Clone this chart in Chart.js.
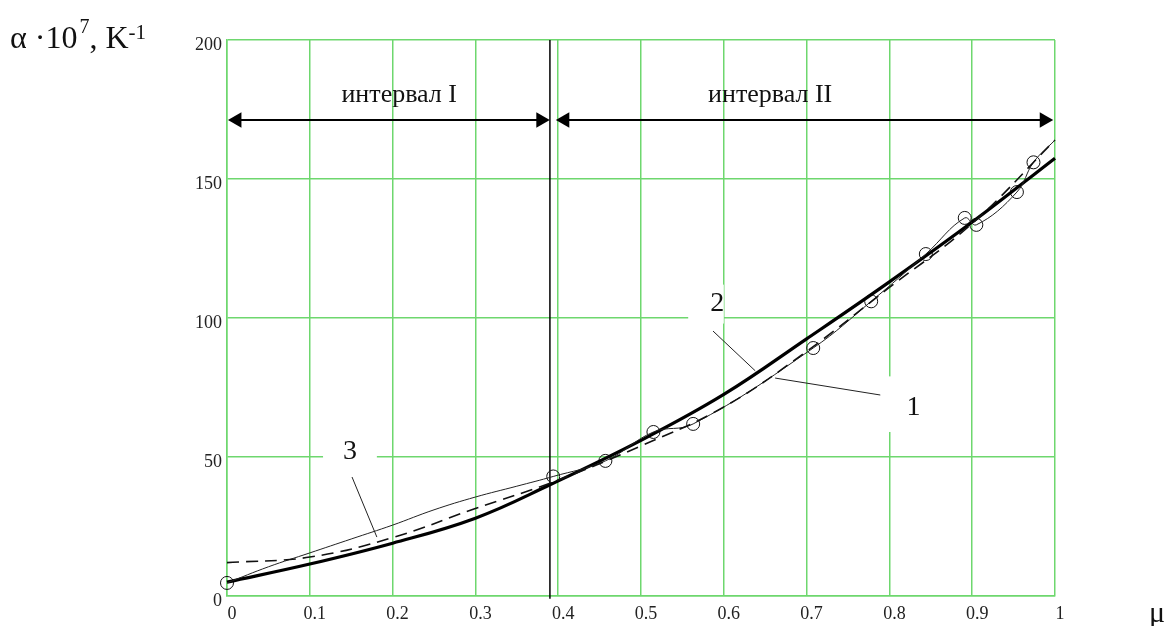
<!DOCTYPE html>
<html>
<head>
<meta charset="utf-8">
<script src="https://cdn.jsdelivr.net/npm/chart.js@4/dist/chart.umd.min.js"></script>
<style>
  body { margin: 0; background: #fff; }
</style>
</head>
<body>
<canvas id="chart" width="1172" height="626"></canvas>
<script>
// axis ticks
var muTicks = [0, 0.1, 0.2, 0.3, 0.4, 0.5, 0.6, 0.7, 0.8, 0.9, 1];
var muTickLabels = ['0', '0.1', '0.2', '0.3', '0.4', '0.5', '0.6', '0.7', '0.8', '0.9', '1'];
var alphaTicks = [0, 50, 100, 150, 200];

// fitted curves (thick solid and dashed)
var muFit = [0, 0.1, 0.2, 0.3, 0.39, 0.5, 0.6, 0.7, 0.8, 0.9, 1];
var alphaThick = [5, 11.5, 19, 28, 40, 56, 72.5, 92.5, 113, 134.5, 157.5];
var alphaDashed = [12, 14, 21, 31.5, 40.6, 54, 68, 88, 111, 134, 164];

// thin line through the measured points
var muThin = [0, 0.05, 0.1, 0.15, 0.2, 0.25, 0.3, 0.35, 0.394, 0.457, 0.515, 0.563, 0.708, 0.778, 0.844, 0.891, 0.905, 0.954, 0.974, 1];
var alphaThin = [4.7, 10.5, 15.5, 20.5, 25.5, 31, 35.6, 39.5, 43, 48.6, 59, 61.9, 89.2, 106, 123, 136, 133.5, 145.3, 156, 164];

// measured points (circles)
var muExp = [0, 0.394, 0.457, 0.515, 0.563, 0.708, 0.778, 0.844, 0.891, 0.905, 0.954, 0.974];
var alphaExp = [4.7, 43, 48.6, 59, 61.9, 89.2, 106, 123, 136, 133.5, 145.3, 156];

// interval boundary and arrows
var muBoundary = 0.39;
var arrowLevel = 171.2;
var arrowOne = [0.005, 0.385];
var arrowTwo = [0.40, 0.99];
var arrowHeadsMu = [0.012, 0.379, 0.408, 0.987];

// numbered labels with their white patch and leader line
var curveLabels = [
  { text: '1', mu: 0.829, alpha: 67.6, box: [0.79, 0.865, 59, 79], from: [0.789, 72.3], to: [0.662, 78.4] },
  { text: '2', mu: 0.592, alpha: 105, box: [0.557, 0.6, 98, 112], from: [0.587, 95.3], to: [0.638, 81] },
  { text: '3', mu: 0.1486, alpha: 51.8, box: [0.116, 0.181, 45, 58], from: [0.151, 42.8], to: [0.181, 21.2] }
];
var intervalLabels = [
  { text: 'интервал I', mu: 0.208, alpha: 180 },
  { text: 'интервал II', mu: 0.656, alpha: 180 }
];

function pts(xs, ys) {
  return xs.map(function(x, i) { return { x: x, y: ys[i] }; });
}

var serif = "'Liberation Serif', 'DejaVu Serif', serif";
var green = 'rgb(110, 215, 110)';

var annotations = {
  id: 'annotations',
  beforeDatasetsDraw: function(chart) {
    var ctx = chart.ctx, xs = chart.scales.x, ys = chart.scales.y;
    ctx.save();
    ctx.fillStyle = '#fff';
    curveLabels.forEach(function(l) {
      var x0 = xs.getPixelForValue(l.box[0]), x1 = xs.getPixelForValue(l.box[1]);
      var y0 = ys.getPixelForValue(l.box[3]), y1 = ys.getPixelForValue(l.box[2]);
      ctx.fillRect(x0, y0, x1 - x0, y1 - y0);
    });
    ctx.restore();
  },
  afterDatasetsDraw: function(chart) {
    var ctx = chart.ctx, xs = chart.scales.x, ys = chart.scales.y;
    ctx.save();
    ctx.fillStyle = '#111';
    ctx.textAlign = 'center';
    ctx.textBaseline = 'middle';
    ctx.font = '28px ' + serif;
    curveLabels.forEach(function(l) {
      ctx.fillText(l.text, xs.getPixelForValue(l.mu), ys.getPixelForValue(l.alpha));
    });
    ctx.font = '26px ' + serif;
    intervalLabels.forEach(function(l) {
      ctx.fillText(l.text, xs.getPixelForValue(l.mu), ys.getPixelForValue(l.alpha));
    });

    // axis titles
    ctx.font = '30px ' + serif;
    ctx.fillText('\u03bc', 1157, 614);
    ctx.textAlign = 'left';
    ctx.textBaseline = 'alphabetic';
    var x = 10, base = 48;
    ctx.font = '32px ' + serif;
    ctx.fillText('\u03b1 \u00b710', x, base);
    x += ctx.measureText('\u03b1 \u00b710').width + 2;
    ctx.font = '20px ' + serif;
    ctx.fillText('7', x, base - 15);
    x += ctx.measureText('7').width;
    ctx.font = '32px ' + serif;
    ctx.fillText(', K', x, base);
    x += ctx.measureText(', K').width;
    ctx.font = '21px ' + serif;
    ctx.fillText('-1', x, base - 9);
    ctx.restore();
  }
};

var leaderSets = curveLabels.map(function(l) {
  return {
    data: [{ x: l.from[0], y: l.from[1] }, { x: l.to[0], y: l.to[1] }],
    showLine: true, borderColor: '#222', borderWidth: 1, pointRadius: 0
  };
});

new Chart(document.getElementById('chart').getContext('2d'), {
  type: 'scatter',
  data: {
    datasets: [
      {
        data: pts(muFit, alphaDashed),
        showLine: true, borderColor: '#111', borderWidth: 1.6, borderDash: [12, 7],
        tension: 0.4, pointRadius: 0
      },
      {
        data: pts(muThin, alphaThin),
        showLine: true, borderColor: '#222', borderWidth: 1, tension: 0.4, pointRadius: 0
      },
      {
        data: pts(muFit, alphaThick),
        showLine: true, borderColor: '#000', borderWidth: 3.2, tension: 0.4, pointRadius: 0
      },
      {
        data: pts(muExp, alphaExp),
        showLine: false, pointRadius: 6.5, pointBorderWidth: 1,
        pointBorderColor: '#111', pointBackgroundColor: 'rgba(0,0,0,0)'
      },
      {
        data: [{ x: muBoundary, y: -1 }, { x: muBoundary, y: 200 }],
        showLine: true, borderColor: '#000', borderWidth: 1.5, pointRadius: 0
      },
      {
        data: [{ x: arrowOne[0], y: arrowLevel }, { x: arrowOne[1], y: arrowLevel }],
        showLine: true, borderColor: '#000', borderWidth: 2, pointRadius: 0
      },
      {
        data: [{ x: arrowTwo[0], y: arrowLevel }, { x: arrowTwo[1], y: arrowLevel }],
        showLine: true, borderColor: '#000', borderWidth: 2, pointRadius: 0
      },
      {
        data: arrowHeadsMu.map(function(m) { return { x: m, y: arrowLevel }; }),
        showLine: false, pointStyle: 'triangle', pointRadius: 9,
        rotation: [270, 90, 270, 90],
        pointBackgroundColor: '#000', pointBorderColor: '#000', pointBorderWidth: 0
      }
    ].concat(leaderSets)
  },
  options: {
    responsive: false,
    animation: false,
    clip: false,
    layout: { padding: { left: 0, top: 40, right: 117, bottom: 0 } },
    plugins: { legend: { display: false }, tooltip: { enabled: false } },
    scales: {
      x: {
        type: 'linear', min: 0, max: 1,
        afterBuildTicks: function(axis) {
          axis.ticks = muTicks.map(function(v) { return { value: v }; });
        },
        afterFit: function(axis) { axis.height = 30; },
        ticks: {
          callback: function(value, index) { return muTickLabels[index]; },
          font: { family: serif, size: 18 }, color: '#222', padding: 7, labelOffset: 5,
          maxRotation: 0, autoSkip: false
        },
        grid: { color: green, lineWidth: 1.5, drawTicks: false },
        border: { color: green, width: 1.5 }
      },
      y: {
        type: 'linear', min: 0, max: 200,
        afterBuildTicks: function(axis) {
          axis.ticks = alphaTicks.map(function(v) { return { value: v }; });
        },
        afterFit: function(axis) { axis.width = 227; },
        ticks: {
          font: { family: serif, size: 18 }, color: '#222', padding: 5, labelOffset: 5
        },
        grid: { color: green, lineWidth: 1.5, drawTicks: false },
        border: { color: green, width: 1.5 }
      }
    }
  },
  plugins: [annotations]
});
</script>
</body>
</html>
